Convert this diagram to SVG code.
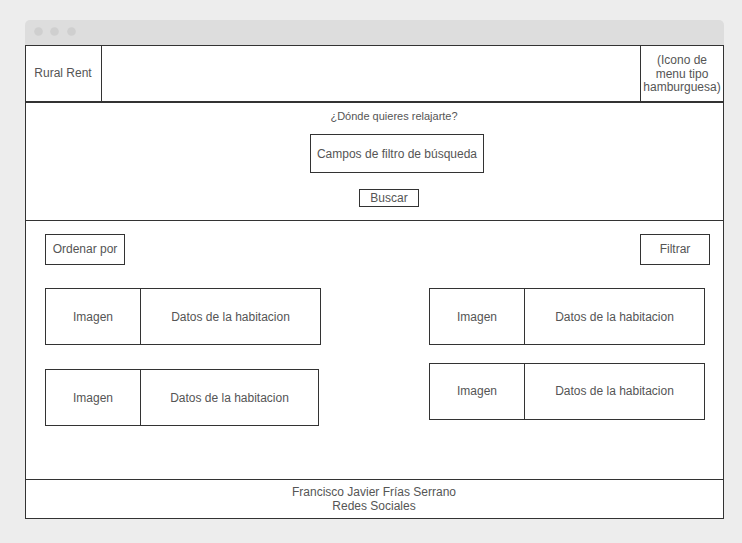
<svg xmlns="http://www.w3.org/2000/svg" width="742" height="543" viewBox="0 0 742 543">
<style>
.box{fill:#ffffff;stroke:#333333;stroke-width:1}
.ln{stroke:#333333;stroke-width:1;fill:none}
.t{font-family:"Liberation Sans",Arial,sans-serif;font-size:12px;fill:#555555;text-anchor:middle;dominant-baseline:central}
.s{font-size:11px}
.dot{fill:#cfcfcf}
</style>
<rect x="0" y="0" width="742" height="543" fill="#ededed"/>
<g id="window">
<rect x="25" y="20" width="699" height="30" rx="5" fill="#dddddd"/>
<circle class="dot" cx="38.5" cy="31.5" r="4.3"/>
<circle class="dot" cx="54.5" cy="31.5" r="4.3"/>
<circle class="dot" cx="71.5" cy="31.5" r="4.3"/>
<rect class="box" x="25.5" y="45.5" width="698" height="473"/>
</g>
<g id="header">
<line class="ln" x1="101.5" y1="45.5" x2="101.5" y2="102"/>
<line class="ln" x1="640.5" y1="45.5" x2="640.5" y2="102"/>
<line x1="25.5" y1="102" x2="723.5" y2="102" stroke="#333333" stroke-width="2"/>
<text class="t" x="63" y="73">Rural Rent</text>
<text class="t" x="682" y="60">(Icono de</text>
<text class="t" x="682" y="73.5">menu tipo</text>
<text class="t" x="682" y="87">hamburguesa)</text>
</g>
<g id="search">
<text class="t s" x="394" y="116">¿Dónde quieres relajarte?</text>
<rect class="box" x="310.5" y="134.5" width="173" height="38"/>
<text class="t" x="397" y="153.5">Campos de filtro de búsqueda</text>
<rect class="box" x="359.5" y="189.5" width="59" height="17"/>
<text class="t" x="389" y="197.5">Buscar</text>
<line class="ln" x1="25.5" y1="220.5" x2="723.5" y2="220.5"/>
</g>
<g id="ordenar">
<rect class="box" x="45.5" y="234.5" width="79" height="30"/>
<text class="t" x="85" y="248.5">Ordenar por</text>
</g>
<g id="filtrar">
<rect class="box" x="640.5" y="234.5" width="69" height="30"/>
<text class="t" x="675" y="248.5">Filtrar</text>
</g>
<g id="card1">
<rect class="box" x="45.5" y="288.5" width="275" height="56"/>
<line class="ln" x1="140.5" y1="288.5" x2="140.5" y2="344.5"/>
<text class="t" x="93" y="316.5">Imagen</text>
<text class="t" x="230.5" y="316.5">Datos de la habitacion</text>
</g>
<g id="card2">
<rect class="box" x="45.5" y="369.5" width="273" height="56"/>
<line class="ln" x1="140.5" y1="369.5" x2="140.5" y2="425.5"/>
<text class="t" x="93" y="397.5">Imagen</text>
<text class="t" x="229.5" y="397.5">Datos de la habitacion</text>
</g>
<g id="card3">
<rect class="box" x="429.5" y="288.5" width="275" height="56"/>
<line class="ln" x1="524.5" y1="288.5" x2="524.5" y2="344.5"/>
<text class="t" x="477" y="316.5">Imagen</text>
<text class="t" x="614.5" y="316.5">Datos de la habitacion</text>
</g>
<g id="card4">
<rect class="box" x="429.5" y="363.5" width="275" height="56"/>
<line class="ln" x1="524.5" y1="363.5" x2="524.5" y2="419.5"/>
<text class="t" x="477" y="390.5">Imagen</text>
<text class="t" x="614.5" y="390.5">Datos de la habitacion</text>
</g>
<g id="footer">
<line class="ln" x1="25.5" y1="479.5" x2="723.5" y2="479.5"/>
<text class="t" x="374" y="492">Francisco Javier Frías Serrano</text>
<text class="t" x="374" y="506">Redes Sociales</text>
</g>
<g id="connectors"></g>
</svg>
